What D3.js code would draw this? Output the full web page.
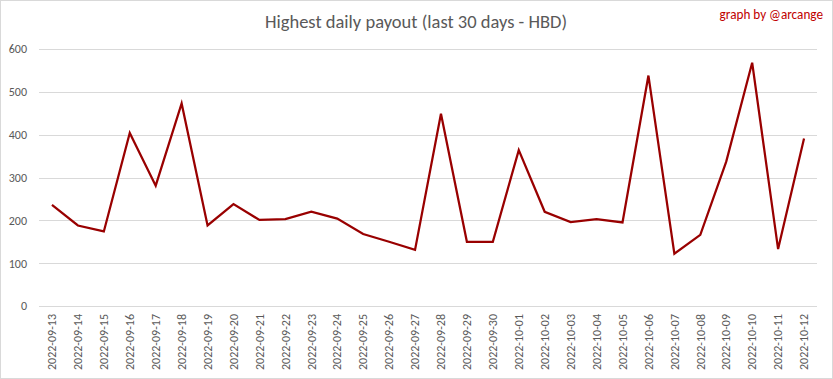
<!DOCTYPE html>
<html><head><meta charset="utf-8">
<script src="https://cdn.jsdelivr.net/npm/d3@7"></script>
<style>
html,body{margin:0;padding:0;background:#fff;}
svg{display:block;font-family:Carlito,Calibri,Lato,"Liberation Sans",sans-serif;}
</style></head>
<body>
<svg id="chart" width="833" height="379"></svg>
<script>
const dates = ["2022-09-13","2022-09-14","2022-09-15","2022-09-16","2022-09-17","2022-09-18","2022-09-19","2022-09-20","2022-09-21","2022-09-22","2022-09-23","2022-09-24","2022-09-25","2022-09-26","2022-09-27","2022-09-28","2022-09-29","2022-09-30","2022-10-01","2022-10-02","2022-10-03","2022-10-04","2022-10-05","2022-10-06","2022-10-07","2022-10-08","2022-10-09","2022-10-10","2022-10-11","2022-10-12"];
const payouts = [236,188,174,404,281,473,188,238,201,203,220,204,168,150,131,449,150,150,364,220,196,203,195,538,122,166,337,568,133,391];
const yTicks = [0,100,200,300,400,500,600];
const titleText = "Highest daily payout (last 30 days - HBD)";
const creditText = "graph by @arcange";

const W = 833, H = 379;
const m = {left:39, right:16, top:49, bottom:73};
const svg = d3.select("#chart");

svg.append("rect").attr("x",0.5).attr("y",0.5).attr("width",W-1).attr("height",H-1)
  .attr("fill","#fff").attr("stroke","#d9d9d9");

const x = d3.scaleBand().domain(dates).range([m.left, W-m.right]);
const y = d3.scaleLinear().domain([0,600]).range([H-m.bottom, m.top]);

// gridlines
svg.append("g").selectAll("line").data(yTicks).join("line")
  .attr("x1",m.left).attr("x2",W-m.right)
  .attr("y1",d=>Math.round(y(d))+0.5).attr("y2",d=>Math.round(y(d))+0.5)
  .attr("stroke","#d9d9d9").attr("stroke-width",1);

// y axis labels
const yAxis = d3.axisLeft(y).tickValues(yTicks).tickSize(0).tickPadding(0);
const gy = svg.append("g").attr("transform",`translate(${m.left-12},0)`).call(yAxis);
gy.select(".domain").remove();
gy.selectAll("text").attr("fill","#595959").style("font-size","12px")
  .style("font-family","Carlito,Calibri,Lato,'Liberation Sans',sans-serif");

// x axis labels
const xAxis = d3.axisBottom(x).tickSize(0).tickPadding(0);
const gx = svg.append("g").attr("transform",`translate(0,${H-m.bottom})`).call(xAxis);
gx.select(".domain").remove();
gx.selectAll("text")
  .attr("fill","#595959").style("font-size","12px")
  .style("font-family","Carlito,Calibri,Lato,'Liberation Sans',sans-serif")
  .attr("text-anchor","end")
  .attr("dy","0.35em")
  .attr("transform","translate(0,8) rotate(-90)")
  .attr("x",0).attr("y",0);

// line
const line = d3.line().x((d,i)=>x(dates[i])+x.bandwidth()/2).y(d=>y(d));
svg.append("path").datum(payouts).attr("d",line)
  .attr("fill","none").attr("stroke","#990000").attr("stroke-width",2.25)
  .attr("stroke-linejoin","miter");

// title
svg.append("text").attr("x",416).attr("y",28).attr("text-anchor","middle")
  .attr("fill","#595959").style("font-size","18.5px").style("font-weight","300")
  .text(titleText);

svg.append("text").attr("x",823).attr("y",19).attr("text-anchor","end")
  .attr("fill","#c00000").style("font-size","13.2px")
  .text(creditText);
</script>
</body></html>
